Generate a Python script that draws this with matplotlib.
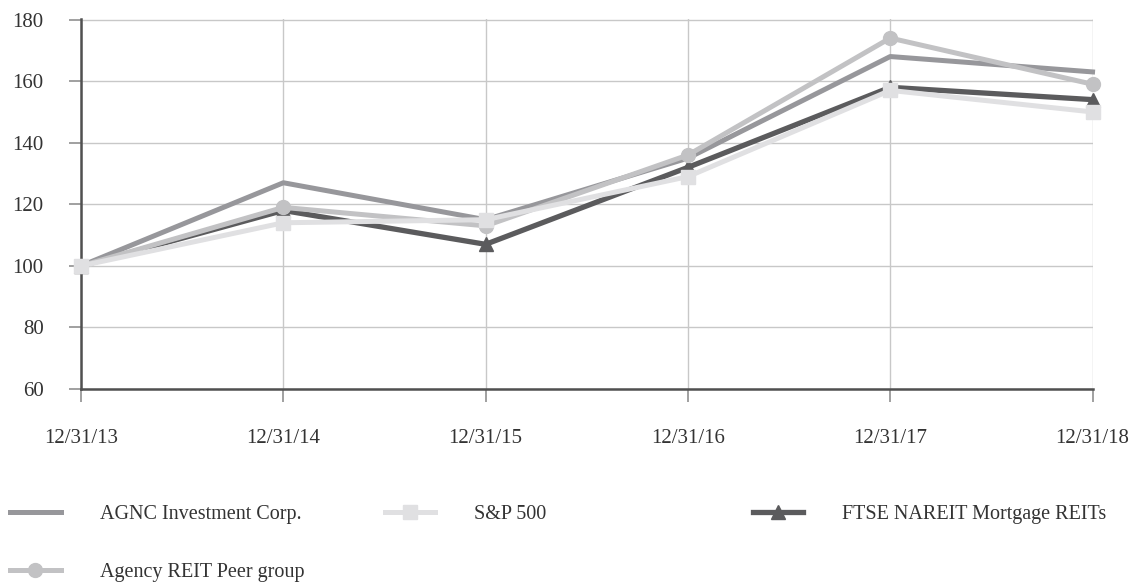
import matplotlib.pyplot as plt
from matplotlib.lines import Line2D

dates = ['12/31/13', '12/31/14', '12/31/15', '12/31/16', '12/31/17', '12/31/18']
agnc = [100, 127, 115, 135, 168, 163]
sp500 = [100, 114, 115, 129, 157, 150]
ftse = [100, 118, 107, 132, 158, 154]
peer = [100, 119, 113, 136, 174, 159]

plt.rcParams['font.family'] = ['Liberation Serif', 'DejaVu Serif']
c_agnc = '#97979b'
c_sp = '#e0e0e2'
c_ftse = '#5b5b5d'
c_peer = '#c2c2c4'
text_c = '#333333'

fig = plt.figure(figsize=(11.32, 5.82), dpi=100)
ax = fig.add_axes([0.0716, 0.3316, 0.8939, 0.6358])
x = list(range(len(dates)))

ax.plot(x, ftse, color=c_ftse, lw=3.8, marker='^', ms=10, zorder=3, clip_on=False)
ax.plot(x, agnc, color=c_agnc, lw=3.6, zorder=4, clip_on=False)
ax.plot(x, peer, color=c_peer, lw=3.6, marker='o', ms=10, zorder=5, clip_on=False)
ax.plot(x, sp500, color=c_sp, lw=3.6, marker='s', ms=10, zorder=6, clip_on=False)

ax.set_xlim(0, 5.002)
ax.set_ylim(60, 180.2)
ax.set_yticks(range(60, 181, 20))
ax.set_xticks(x)
ax.set_xticklabels(dates)
ax.grid(True, color='#c8c8c8', lw=1)
ax.set_axisbelow(True)
for s in ['top', 'right']:
    ax.spines[s].set_visible(False)
for s in ['left', 'bottom']:
    ax.spines[s].set_color('#505050')
    ax.spines[s].set_linewidth(1.8)
ax.tick_params(axis='y', length=9, width=1.2, color='#909090', pad=18,
               labelsize=15, labelcolor=text_c)
ax.tick_params(axis='x', length=9, width=1.2, color='#909090', pad=20,
               labelsize=15, labelcolor=text_c)

entries = [
    (Line2D([], [], color=c_agnc, lw=3.6), 'AGNC Investment Corp.', 0.009, 0.1168),
    (Line2D([], [], color=c_sp, lw=3.6, marker='s', ms=10), 'S&P 500', 0.340, 0.1168),
    (Line2D([], [], color=c_ftse, lw=3.8, marker='^', ms=10), 'FTSE NAREIT Mortgage REITs', 0.665, 0.1168),
    (Line2D([], [], color=c_peer, lw=3.6, marker='o', ms=10), 'Agency REIT Peer group', 0.009, 0.017),
]
for h, lab, lx, ly in entries:
    fig.legend([h], [lab], loc='center left', bbox_to_anchor=(lx, ly),
               frameon=False, borderpad=0, borderaxespad=0,
               handlelength=2.5, handletextpad=1.95, fontsize=14.5,
               labelcolor=text_c)

fig.savefig('out.png', dpi=100)
